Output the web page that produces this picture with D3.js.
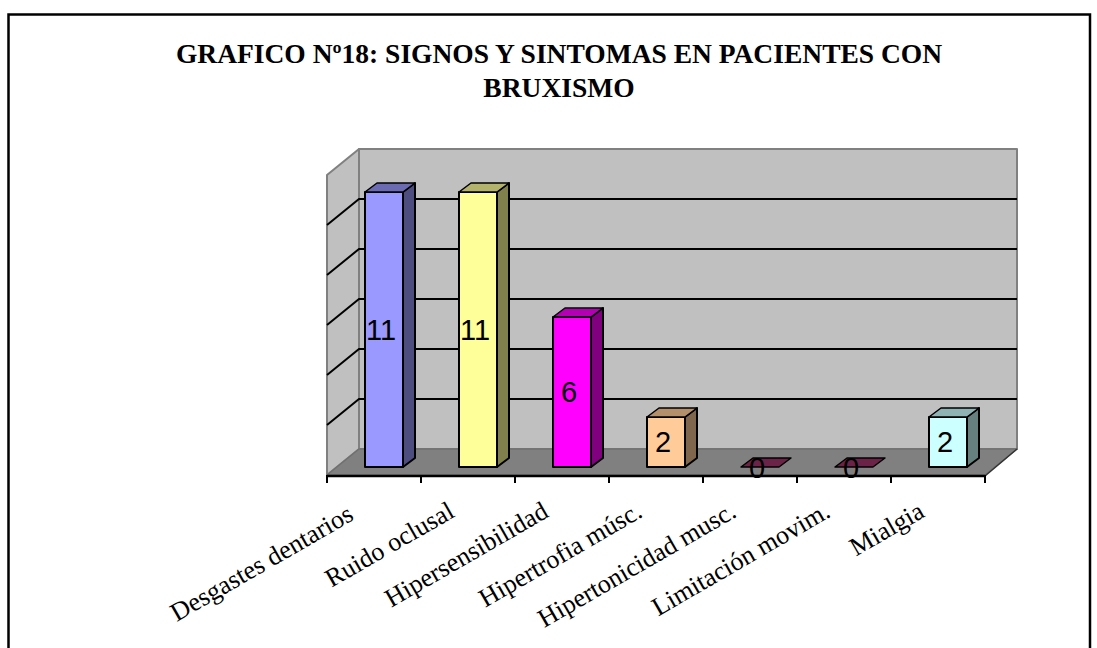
<!DOCTYPE html>
<html>
<head>
<meta charset="utf-8">
<style>
  html, body { margin: 0; padding: 0; background: #fff; }
  svg { display: block; }
  .title { font: bold 27.5px "Liberation Serif", serif; text-anchor: middle; fill: #000; }
  .cat { font: 26px "Liberation Serif", serif; text-anchor: end; fill: #000; }
  .val { font: 29px "Liberation Sans", Arial, sans-serif; text-anchor: middle; fill: #000; }
</style>
</head>
<body>
<script src="https://cdn.jsdelivr.net/npm/d3@7/dist/d3.min.js"></script>
<script>
// Symptom counts per category
const categories = ["Desgastes dentarios", "Ruido oclusal", "Hipersensibilidad", "Hipertrofia músc.", "Hipertonicidad musc.", "Limitación movim.", "Mialgia"];
const values = [11, 11, 6, 2, 0, 0, 2];
const frontColors = ["#9999FF", "#FFFF99", "#FF00FF", "#FFCC99", "#993366", "#993366", "#CCFFFF"];
const yTicks = [0, 2, 4, 6, 8, 10, 12];
const titleLines = ["GRAFICO Nº18: SIGNOS Y SINTOMAS EN PACIENTES CON", "BRUXISMO"];

const W = 1097, H = 648;
const svg = d3.select("body").append("svg").attr("width", W).attr("height", H);

// Chart frame, open at the bottom edge of the page
svg.append("path")
  .attr("d", `M8.5,${H + 5}V14.5H1090V${H + 5}`)
  .attr("fill", "#fff").attr("stroke", "#000").attr("stroke-width", 2.5);

// Oblique projection: depth is a fixed offset from the front plane
const depth = { dx: 32, dy: -26 };
const x = d3.scaleBand().domain(categories).range([327, 985]);
const yFront = d3.scaleLinear().domain([0, 12]).range([475, 175]);
const barBase = 467;
const barDepth = { dx: 12, dy: -9 };
const barInset = 38, barWidth = 38;
const barY = v => yFront(v) - (yFront(0) - barBase);

const poly = (pts, fill, stroke, sw) => svg.append("polygon")
  .attr("points", pts.map(p => p.join(",")).join(" "))
  .attr("fill", fill).attr("stroke", stroke).attr("stroke-width", sw).attr("stroke-linejoin", "round");

const x0 = x.range()[0], x1 = x.range()[1];
const y0 = yFront(0), yTop = yFront(12);

// Back wall, side wall and floor
poly([[x0 + depth.dx, yTop + depth.dy], [x1 + depth.dx, yTop + depth.dy], [x1 + depth.dx, y0 + depth.dy], [x0 + depth.dx, y0 + depth.dy]], "#C0C0C0", "#808080", 2);
poly([[x0, yTop], [x0 + depth.dx, yTop + depth.dy], [x0 + depth.dx, y0 + depth.dy], [x0, y0]], "#C0C0C0", "#808080", 2);
poly([[x0, y0], [x0 + depth.dx, y0 + depth.dy], [x1 + depth.dx, y0 + depth.dy], [x1, y0]], "#808080", "#707070", 1.5);

// Gridlines running along the side wall and across the back wall
const grid = svg.append("g").attr("fill", "none").attr("stroke", "#000").attr("stroke-width", 2);
yTicks.slice(1, -1).forEach(t => {
  grid.append("path").attr("d", d3.line()([
    [x0, yFront(t)],
    [x0 + depth.dx, yFront(t) + depth.dy],
    [x1 + depth.dx, yFront(t) + depth.dy]
  ]));
});

// Category axis along the front floor edge
const tickXs = categories.map(c => x(c)).concat([x1]);
const axis = svg.append("g").attr("stroke", "#000").attr("fill", "none");
axis.append("path").attr("stroke-width", 2.5).attr("d", `M${x0},${y0 + 1}H${x1}`);
axis.append("path").attr("stroke-width", 1.5).attr("stroke", "#333").attr("d", `M${x1},${y0 + 1}L${x1 + depth.dx},${y0 + depth.dy}`);
tickXs.forEach(tx => axis.append("path").attr("stroke-width", 2).attr("d", `M${tx},${y0}V${y0 + 8}`));

// Tint applied to the top and side faces of each box
const shade = (c, k) => { const q = d3.rgb(c); return d3.rgb(q.r * k, q.g * k, q.b * k).formatHex(); };

categories.forEach((c, i) => {
  const v = values[i];
  const L = x(c) + barInset, R = L + barWidth, T = barY(v), B = barBase;
  const { dx, dy } = barDepth;
  const col = frontColors[i];
  if (v > 0) {
    poly([[L, B], [R, B], [R, T], [L, T]], col, "#000", 2);
    poly([[R, B], [R + dx, B + dy], [R + dx, T + dy], [R, T]], shade(col, 0.5), "#000", 2);
  }
  poly([[L, T], [L + dx, T + dy], [R + dx, T + dy], [R, T]], shade(col, 0.7), "#000", 1.5);
});

// Value labels centred on each front face
svg.selectAll("text.val").data(categories).join("text")
  .attr("class", "val")
  .attr("x", c => x(c) + barInset + barWidth / 2 - 3)
  .attr("y", (c, i) => values[i] > 0 ? (barY(values[i]) + barBase) / 2 + 10 : 478)
  .text((c, i) => values[i]);

// Rotated category labels ending under each tick span; the first label sits closer to the axis start
svg.selectAll("text.cat").data(categories).join("text")
  .attr("class", "cat")
  .attr("transform", (c, i) => `translate(${x(c) + (i === 0 ? 28 : 35)},${i === 0 ? 519 : 516}) rotate(-30)`)
  .text(c => c);

// Two-line heading
svg.selectAll("text.title").data(titleLines).join("text")
  .attr("class", "title")
  .attr("x", 559)
  .attr("y", (d, i) => 63 + i * 34)
  .text(d => d);
</script>
</body>
</html>
